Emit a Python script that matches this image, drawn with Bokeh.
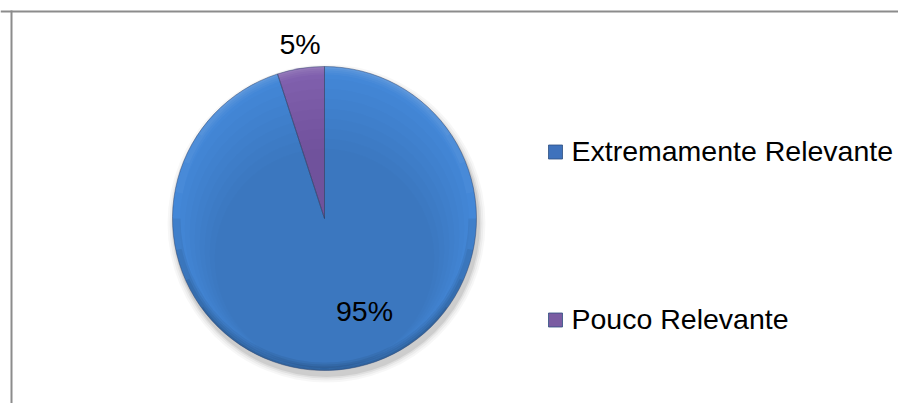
import numpy as np
from bokeh.plotting import figure
from bokeh.models import Range1d, Span, ColumnDataSource
from bokeh.core.properties import value
from bokeh.embed import file_html
from bokeh.resources import INLINE

# ---- data ----
categories = ["Extremamente Relevante", "Pouco Relevante"]
percents = [95, 5]
labels = ["95%", "5%"]
colors = ["#4387D7", "#8060AE"]
legend_colors = ["#3F72BC", "#7A5CA2"]

# ---- layout ----
W, H = 898, 403
CX, CY, R = 324, 185, 152
FONT = "Liberation Sans"
FS = "28.5px"
TEXT_DY = 10                                  # baseline correction for rendered text
LABEL_OFFSETS = [(40, -102), (-24.5, 165)]   # text baseline anchors relative to pie centre
LEG_X_SQ, LEG_X_TXT = 555, 571
LEG_Y_SQ = [251.5, 83.5]
LEG_Y_TXT = [243, 75]
BORDER = 11

p = figure(width=W, height=H, output_backend="svg", toolbar_location=None,
           x_range=Range1d(0, W), y_range=Range1d(0, H),
           min_border=0, x_axis_location=None, y_axis_location=None)
p.grid.visible = False
p.outline_line_color = None
p.background_fill_color = "white"
p.border_fill_color = "white"

# border (top and left only visible)
p.add_layout(Span(location=H - BORDER, dimension="width", line_color="#8C8C8C", line_width=2))
p.segment(x0=[BORDER], y0=[0], x1=[BORDER], y1=[H - BORDER + 1], line_color="#8C8C8C", line_width=2)

# wedge angles: start at 12 o'clock, go clockwise
total = float(sum(percents))
fr = np.array(percents) / total
cum = np.concatenate([[0], np.cumsum(fr)])
start = np.pi / 2 - 2 * np.pi * cum[:-1]
end = np.pi / 2 - 2 * np.pi * cum[1:]

src = ColumnDataSource(dict(start=start, end=end, color=colors, cat=categories))

# soft shadow
for k, a in [(7, 0.03), (5, 0.04), (3, 0.06), (1.5, 0.08)]:
    p.circle(x=[CX + 2], y=[CY - 5], radius=R + k, fill_color="black", fill_alpha=a, line_color=None)

# pie slices
p.wedge(x=CX, y=CY, radius=R, start_angle="start", end_angle="end", direction="clock",
        fill_color="color", line_color=None, source=src)

# subtle vertical shading (darker toward bottom)
for i in range(1, 9):
    off = 5 * i
    rr = 1 - (off + 2) / R
    p.circle(x=[CX], y=[CY - off], radius=R * rr, fill_color="black", fill_alpha=0.011, line_color=None)

# bevel: rim highlight (top) and rim shade (bottom), tapered at the ends
for j, (w_, a) in enumerate([(8, 0.03), (6, 0.035), (4, 0.045), (2, 0.06)]):
    spread = 12 * j
    p.annular_wedge(x=CX, y=CY, inner_radius=R - w_, outer_radius=R,
                    start_angle=np.radians(10 + spread), end_angle=np.radians(170 - spread),
                    fill_color="white", fill_alpha=a, line_color=None)
    p.annular_wedge(x=CX, y=CY, inner_radius=R - w_, outer_radius=R,
                    start_angle=np.radians(180 + spread), end_angle=np.radians(360 - spread),
                    fill_color="black", fill_alpha=a + 0.03, line_color=None)

# slice separators
p.wedge(x=CX, y=CY, radius=R, start_angle="start", end_angle="end", direction="clock",
        fill_color=None, line_color="#2B3F66", line_alpha=0.45, line_width=1, source=src)

# data labels
lx = [CX + dx for dx, dy in LABEL_OFFSETS]
ly = [CY + dy + TEXT_DY for dx, dy in LABEL_OFFSETS]
p.text(x=lx, y=ly, text=labels, text_font=value(FONT), text_font_size=FS,
       text_align="center", text_baseline="alphabetic", text_color="black")

# legend
p.scatter(x=[LEG_X_SQ] * len(categories), y=LEG_Y_SQ, marker="square", size=14,
          fill_color=legend_colors, line_color="#2F4F80", line_width=0.8)
p.text(x=[LEG_X_TXT] * len(categories), y=[v + TEXT_DY for v in LEG_Y_TXT], text=categories,
       text_font=value(FONT), text_font_size=FS, text_align="left", text_baseline="alphabetic",
       text_color="black")

open("out.html", "w").write(file_html(p, INLINE))
